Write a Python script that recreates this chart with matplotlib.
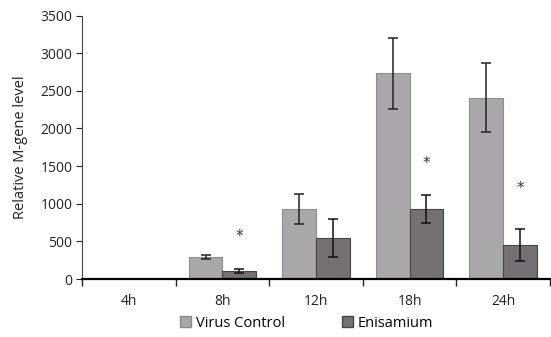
import matplotlib
matplotlib.use("Agg")
import matplotlib.pyplot as plt
import numpy as np
from matplotlib.patches import Patch

categories = ["4h", "8h", "12h", "18h", "24h"]
virus_control = [0, 295, 925, 2730, 2410]
virus_err = [0, 25, 200, 475, 455]
enisamium = [0, 105, 545, 935, 455]
enisamium_err = [0, 25, 250, 185, 210]
star_y = [None, 560, None, 1540, 1200]

plt.rcParams["font.family"] = ["Open Sans", "DejaVu Sans"]

fig = plt.figure(figsize=(5.51, 3.37), dpi=100)
ax = fig.add_axes([0.149, 0.172, 0.849, 0.782])

x = np.arange(len(categories))
w = 0.36
c_vc = "#a9a7aa"
c_en = "#747073"

ax.bar(x - w / 2, virus_control, w, color=c_vc, edgecolor="#8c8c8c", linewidth=0.8,
       yerr=virus_err, error_kw=dict(ecolor="#222222", elinewidth=1.1, capsize=3.5, capthick=1.1))
ax.bar(x + w / 2, enisamium, w, color=c_en, edgecolor="#454545", linewidth=0.8,
       yerr=enisamium_err, error_kw=dict(ecolor="#111111", elinewidth=1.1, capsize=3.5, capthick=1.1))

# significance markers
for i, sy in enumerate(star_y):
    if sy is not None:
        ax.text(x[i] + w / 2, sy, "*", ha="center", va="center", fontsize=11,
                color="#333333", family="DejaVu Sans")

ax.set_xlim(-0.5, len(categories) - 0.5)
ax.set_ylim(0, 3500)
ax.set_yticks(range(0, 3501, 500))
ax.set_xticks(x)
ax.set_xticklabels(categories)
ax.set_xticks(np.arange(-0.5, len(categories)), minor=True)
ax.tick_params(axis="x", which="major", length=0, pad=11, labelsize=10, colors="#222222")
ax.tick_params(axis="x", which="minor", length=5, width=1, direction="out", color="#222222")
ax.tick_params(axis="y", length=4, width=0.8, direction="out", labelsize=10, colors="#222222", pad=3)

for s in ["top", "right"]:
    ax.spines[s].set_visible(False)
ax.spines["left"].set_color("#444444")
ax.spines["left"].set_linewidth(0.8)
ax.spines["bottom"].set_color("black")
ax.spines["bottom"].set_linewidth(1.6)

ax.set_ylabel("Relative M-gene level", fontsize=10.5, color="#222222", labelpad=9)

handles = [Patch(facecolor=c_vc, edgecolor="#8c8c8c", label="Virus Control"),
           Patch(facecolor=c_en, edgecolor="#454545", label="Enisamium")]
fig.legend(handles=handles, loc="lower center", bbox_to_anchor=(0.556, -0.02), ncol=2,
           frameon=False, fontsize=10.5, handlelength=0.8, handleheight=0.8,
           handletextpad=0.3, columnspacing=3.9)

fig.savefig("out.png", dpi=100)
